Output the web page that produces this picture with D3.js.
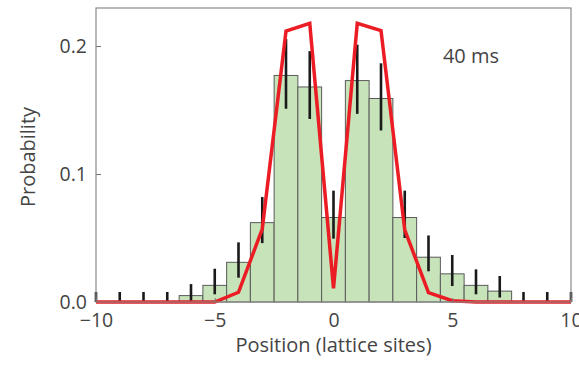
<!DOCTYPE html>
<html>
<head>
<meta charset="utf-8">
<script src="https://cdn.jsdelivr.net/npm/d3@7"></script>
<style>
    body { margin: 0; background: #fff; }
    text { font-family: "Open Sans", sans-serif; fill: #444; }
</style>
</head>
<body>
<div id="chart"></div>
<script>
// histogram bars (lattice site -> probability)
const barSites = [-6, -5, -4, -3, -2, -1, 0, 1, 2, 3, 4, 5, 6, 7];
const barProb = [0.005, 0.013, 0.031, 0.062, 0.177, 0.168, 0.066, 0.173, 0.159, 0.066, 0.035, 0.022, 0.013, 0.0085];

// error bars (low / high) at each site
const errSites = [-10, -9, -8, -7, -6, -5, -4, -3, -2, -1, 0, 1, 2, 3, 4, 5, 6, 7, 8, 9, 10];
const errLow = [0, 0, 0, 0, 0, 0.006, 0.019, 0.046, 0.151, 0.143, 0.0495, 0.147, 0.134, 0.050, 0.024, 0.0125, 0.006, 0.0035, 0, 0, 0];
const errHigh = [0.0078, 0.0078, 0.0078, 0.0078, 0.014, 0.026, 0.0466, 0.082, 0.2055, 0.196, 0.087, 0.201, 0.1865, 0.087, 0.052, 0.0367, 0.0255, 0.0203, 0.0078, 0.0078, 0.0078];

// theory curve (red)
const lineSites = [-10, -9, -8, -7, -6, -5, -4, -3, -2, -1, 0, 1, 2, 3, 4, 5, 6, 7, 8, 9, 10];
const lineProb = [0, 0, 0, 0, 0, 0, 0.0076, 0.057, 0.2117, 0.2177, 0.0107, 0.2177, 0.212, 0.0563, 0.0073, 0.001, 0, 0, 0, 0, 0];

const xTicks = [-10, -5, 0, 5, 10];
const yTicks = [0.0, 0.1, 0.2];

const margin = {top: 8, right: 8, bottom: 64, left: 96};
const W = 579, H = 366;
const width = W - margin.left - margin.right,
    height = H - margin.top - margin.bottom;

const svg = d3.select("#chart").append("svg")
    .attr("width", W)
    .attr("height", H)
    .append("g")
    .attr("transform", "translate(" + margin.left + "," + margin.top + ")");

const x = d3.scaleLinear().domain([-10, 10]).range([0, width]);
const y = d3.scaleLinear().domain([0, 0.2297]).range([height, 0]);

// bars
svg.selectAll(".bar")
    .data(barSites)
    .enter().append("rect")
    .attr("class", "bar")
    .attr("x", d => x(d - 0.5))
    .attr("y", (d, i) => y(barProb[i]))
    .attr("width", x(1) - x(0))
    .attr("height", (d, i) => y(0) - y(barProb[i]))
    .attr("fill", "#c6e3b9")
    .attr("stroke", "#5a5a5a")
    .attr("stroke-width", 1);

// error bars
svg.selectAll(".err")
    .data(errSites)
    .enter().append("line")
    .attr("class", "err")
    .attr("x1", d => x(d))
    .attr("x2", d => x(d))
    .attr("y1", (d, i) => y(errLow[i]))
    .attr("y2", (d, i) => y(errHigh[i]))
    .attr("stroke", "#1a1a1a")
    .attr("stroke-width", 2.6);

// red line
const line = d3.line()
    .x(d => x(d[0]))
    .y(d => y(d[1]));

svg.append("path")
    .datum(lineSites.map((s, i) => [s, lineProb[i]]))
    .attr("d", line)
    .attr("fill", "none")
    .attr("stroke", "#ec1c24")
    .attr("stroke-width", 3.5)
    .attr("stroke-linejoin", "miter");

// frame
svg.append("rect")
    .attr("x", 0).attr("y", 0)
    .attr("width", width).attr("height", height)
    .attr("fill", "none")
    .attr("stroke", "#8a8a8a")
    .attr("stroke-width", 1.2);

// axes
const xAxis = d3.axisBottom(x).tickValues(xTicks).tickSizeInner(-4).tickSizeOuter(0).tickPadding(11)
    .tickFormat(d => d3.format("d")(d).replace("-", "\u2212"));
const yAxis = d3.axisLeft(y).tickValues(yTicks).tickSizeInner(-5).tickSizeOuter(0).tickPadding(9)
    .tickFormat(d3.format(".1f"));

const xg = svg.append("g")
    .attr("class", "x-axis axis")
    .attr("transform", `translate(0,${height})`)
    .call(xAxis);
const yg = svg.append("g")
    .attr("class", "y-axis axis")
    .call(yAxis);

[xg, yg].forEach(g => {
    g.select(".domain").remove();
    g.selectAll(".tick line").attr("stroke", "#777");
    g.selectAll("text").style("font-size", "19.5px").style("fill", "#444");
});
xg.selectAll(".tick").filter(d => d === 0.0).select("line").remove();
yg.selectAll(".tick").filter(d => d === 0).select("line").remove();

// labels
svg.append("text")
    .attr("x", x(0))
    .attr("y", height + 50)
    .attr("text-anchor", "middle")
    .style("font-size", "20px")
    .text("Position (lattice sites)");

svg.append("text")
    .attr("transform", `translate(${28 - margin.left},${157 - margin.top}) rotate(-90)`)
    .attr("text-anchor", "middle")
    .attr("dy", "0.35em")
    .style("font-size", "20px")
    .text("Probability");

svg.append("text")
    .attr("x", 471 - margin.left)
    .attr("y", 63 - margin.top)
    .attr("text-anchor", "middle")
    .style("font-size", "20px")
    .text("40 ms");
</script>
</body>
</html>
